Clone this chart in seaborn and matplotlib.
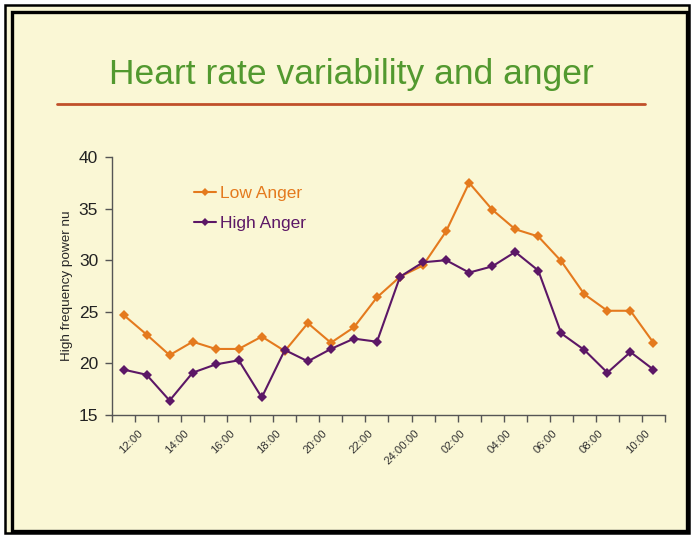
import matplotlib
matplotlib.use("Agg")
import matplotlib.pyplot as plt
import matplotlib.patches as patches
from matplotlib.transforms import ScaledTranslation
import seaborn as sns
import pandas as pd
import numpy as np

# hourly readings, 12:00 through 11:00 next day
hours = ["12:00", "13:00", "14:00", "15:00", "16:00", "17:00", "18:00", "19:00",
         "20:00", "21:00", "22:00", "23:00", "24:00:00", "01:00", "02:00", "03:00",
         "04:00", "05:00", "06:00", "07:00", "08:00", "09:00", "10:00", "11:00"]
low_anger = [24.7, 22.8, 20.8, 22.1, 21.4, 21.4, 22.6, 21.2, 23.9, 22.0, 23.5, 26.4,
             28.4, 29.5, 32.8, 37.5, 34.9, 33.0, 32.3, 29.9, 26.7, 25.1, 25.1, 22.0]
high_anger = [19.4, 18.9, 16.4, 19.1, 19.9, 20.3, 16.7, 21.3, 20.2, 21.4, 22.4, 22.1,
              28.4, 29.8, 30.0, 28.8, 29.4, 30.8, 29.0, 22.9, 21.3, 19.1, 21.1, 19.4]
series_names = ["Low Anger", "High Anger"]
y_label = "High frequency power nu"
title = "Heart rate variability and anger"

W, H = 691, 536
BG = "#FAF7D5"
ORANGE = "#E47A1E"
PURPLE = "#5C1766"

df = pd.DataFrame({
    "idx": list(range(len(hours))) * 2,
    "value": low_anger + high_anger,
    "series": [series_names[0]] * len(hours) + [series_names[1]] * len(hours),
})

sns.set_style("ticks")
plt.rcParams["font.family"] = ["Liberation Sans", "DejaVu Sans"]

fig = plt.figure(figsize=(W / 100, H / 100), dpi=100)
fig.patch.set_facecolor("white")


def fx(px):
    return px / W


def fy(py):
    return 1 - py / H


# slide frame
fig.patches.append(patches.Rectangle((fx(5), fy(533)), fx(684), 528 / H,
                                     transform=fig.transFigure, facecolor=BG,
                                     edgecolor="black", linewidth=1.8, zorder=-2))
fig.patches.append(patches.Rectangle((fx(12), fy(531)), fx(675), 519 / H,
                                     transform=fig.transFigure, facecolor="none",
                                     edgecolor="black", linewidth=2.4, zorder=-1))

fig.text(fx(351), fy(84), title, ha="center", va="baseline", fontsize=25.5,
         color="#52992F")
fig.add_artist(plt.Line2D([fx(57), fx(645)], [fy(103.5), fy(103.5)],
                          transform=fig.transFigure, color="#C0502A", linewidth=2))

ax = fig.add_axes([fx(112), fy(415), fx(553), 258 / H])
ax.set_facecolor(BG)
ax.set_zorder(1)

sns.lineplot(data=df, x="idx", y="value", hue="series", palette=[ORANGE, PURPLE],
             marker="D", markersize=5.5, markeredgewidth=0, linewidth=1.5,
             ax=ax, legend=False)

ax.set_xlim(-0.5, len(hours) - 0.5)
ax.set_ylim(15, 40)
ax.set_yticks(np.arange(15, 41, 5))
ax.tick_params(axis="y", labelsize=12.5, length=5, color="#555555", width=1,
               pad=5, labelcolor="#222222")

ax.set_xticks(np.arange(-0.5, len(hours), 1))
ax.set_xticklabels([])
ax.tick_params(axis="x", which="major", length=5, color="#555555", width=1)
ax.set_xticks(np.arange(0, len(hours), 2), minor=True)
ax.set_xticklabels(hours[::2], minor=True, rotation=45, ha="right",
                   rotation_mode="anchor", fontsize=8.2, color="#333333")
ax.tick_params(axis="x", which="minor", length=0, pad=9.4)
shift = ScaledTranslation(0.14, 0, fig.dpi_scale_trans)
for lab in ax.get_xticklabels(minor=True):
    lab.set_transform(lab.get_transform() + shift)

for s in ["top", "right"]:
    ax.spines[s].set_visible(False)
for s in ["left", "bottom"]:
    ax.spines[s].set_color("#555555")
    ax.spines[s].set_linewidth(1)

ax.set_xlabel("")
ax.set_ylabel(y_label, fontsize=9.7, labelpad=4)

handles = [plt.Line2D([], [], color=c, marker="D", markersize=4.5, linewidth=1.5,
                      markeredgewidth=0) for c in [ORANGE, PURPLE]]
ax.legend(handles, series_names, loc="upper left", bbox_to_anchor=(0.148, 0.888),
          frameon=False, fontsize=12.5, labelcolor=[ORANGE, PURPLE],
          handlelength=1.27, handletextpad=0.25, labelspacing=0.84,
          borderpad=0, borderaxespad=0)

fig.savefig("out.png", dpi=100, facecolor=fig.get_facecolor())
